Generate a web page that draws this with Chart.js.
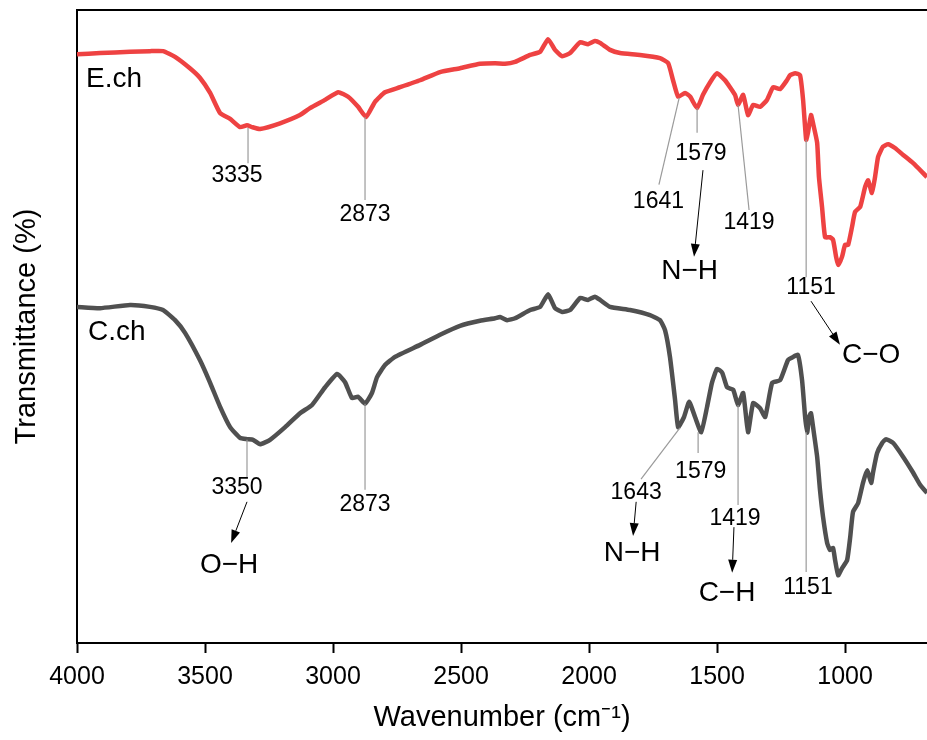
<!DOCTYPE html>
<html><head><meta charset="utf-8">
<script src="https://cdn.jsdelivr.net/npm/chart.js@4/dist/chart.umd.min.js"></script>
<style>html,body{margin:0;padding:0;background:#fff;overflow:hidden}</style>
</head><body>
<canvas id="c" width="927" height="740"></canvas>
<script>
// ---------- DATA ----------
const ech_wavenumber = [4000,3910,3793,3715,3664,3617,3559,3520,3480,3441,3402,3363,3336,3316,3285,3207,3129,3090,3031,2980,2941,2902,2871,2836,2797,2738,2660,2582,2504,2426,2367,2328,2289,2230,2191,2160,2133,2105,2074,2035,2004,1977,1957,1918,1879,1801,1723,1691,1672,1652,1625,1605,1578,1555,1527,1500,1469,1430,1418,1398,1379,1359,1332,1305,1281,1254,1227,1215,1195,1176,1164,1152,1145,1133,1125,1109,1102,1090,1078,1059,1047,1035,1027,1012,1000,988,973,961,941,922,910,895,883,871,852,832,805,773,734,699,680];
const ech_transmittance = [93.0,93.2,93.4,93.5,93.5,92.6,90.8,89.3,86.9,83.7,82.8,81.5,81.8,81.5,81.2,82.1,83.4,84.5,85.8,87.0,86.3,84.7,83.1,85.5,87.0,87.8,88.9,90.2,90.8,91.5,91.6,91.5,91.8,92.9,93.4,95.4,93.7,92.7,93.2,94.9,94.6,95.1,94.8,93.7,93.2,92.9,92.4,91.6,88.9,86.3,86.9,86.3,84.5,86.6,88.6,90.0,88.9,86.6,85.0,86.6,83.4,85.0,84.7,85.8,87.8,87.5,88.9,89.7,90.0,89.7,85.8,79.5,80.6,83.4,82.1,79.0,73.6,68.9,64.1,64.1,63.7,61.0,59.7,61.0,62.9,62.9,65.7,68.1,68.9,72.0,73.1,71.1,73.6,76.8,78.4,78.8,78.2,77.1,75.8,74.4,73.6];

const cch_wavenumber = [4000,3910,3793,3715,3664,3617,3578,3520,3480,3441,3402,3363,3336,3312,3285,3246,3187,3129,3082,3031,2984,2953,2926,2902,2875,2848,2828,2797,2758,2660,2582,2504,2426,2367,2348,2320,2289,2230,2191,2160,2133,2105,2074,2035,2004,1977,1957,1918,1840,1762,1723,1703,1684,1664,1652,1629,1609,1586,1562,1539,1520,1500,1480,1461,1437,1418,1398,1379,1359,1332,1312,1285,1254,1223,1203,1184,1168,1156,1148,1141,1133,1125,1109,1098,1086,1070,1059,1047,1039,1027,1012,992,980,969,949,930,914,898,891,875,855,840,812,773,734,707,680];
const cch_transmittance = [53.1,52.9,53.4,53.1,52.6,51.0,49.0,44.7,41.1,37.3,34.1,32.4,32.2,32.1,31.4,32.1,34.1,36.3,37.6,40.4,42.5,41.2,38.7,38.9,37.8,39.5,42.0,43.9,45.2,47.1,48.7,50.1,50.9,51.3,51.5,51.0,51.3,52.6,53.1,55.1,52.9,52.3,52.6,54.5,54.2,54.7,54.2,53.1,52.6,51.8,51.0,49.4,45.2,38.4,34.1,35.7,38.1,35.7,33.3,37.3,41.1,43.3,42.7,40.4,40.0,37.6,39.5,33.3,37.9,37.1,35.7,41.1,41.5,44.7,45.2,45.5,41.5,35.7,33.2,35.7,36.3,34.1,29.4,24.2,19.9,15.8,14.7,15.0,13.1,10.7,11.8,13.1,16.7,20.7,22.1,25.3,27.3,25.3,26.9,30.0,31.6,32.2,31.6,29.4,26.9,25.0,23.7];

const series_names = ['E.ch','C.ch'];
const x_tick_values = [4000,3500,3000,2500,2000,1500,1000];

// peak labels: [text, wavenumber, transmittance]
const peak_labels = [['3335',3375,73.8],['2873',2875,67.6],['1641',1729,69.7],['1579',1563,77.3],['1419',1375,66.4],['1151',1133,56.1],
  ['3350',3375,24.5],['2873',2875,21.8],['1643',1816,23.7],['1579',1564,27.0],['1419',1430,19.6],['1151',1145,8.7]];
const group_labels = [['N\u2212H',1607,58.8],['C\u2212O',898,45.5],['O\u2212H',3406,12.3],['N\u2212H',1832,14.2],['C\u2212H',1461,7.9]];
const name_labels = [['E.ch',3965,89.1],['C.ch',3957,49.1]];
// leader lines [wn1, t1, wn2, t2]
const leader_lines = [[3332,81.4,3332,75.8],[2875,83.1,2875,70.0],[1648,86.1,1727,72.4],[1578,84.5,1578,80.6],[1418,85.0,1375,68.4],[1152,79.5,1152,57.8],
  [3336,32.1,3336,26.2],[2875,37.8,2875,24.2],[1645,34.0,1797,25.9],[1574,33.3,1574,30.0],[1418,37.6,1418,21.8],[1152,33.3,1152,11.2]];
const arrow_lines = [[1555,74.7,1590,61.0],[1133,54.0,1020,47.1],[3336,22.3,3398,15.8],[1816,22.3,1828,16.9],[1434,18.3,1441,11.1]];

// ---------- CHART ----------
const FONT = '"Liberation Sans", Arial, Helvetica, sans-serif';
const toXY = (xs, ys) => xs.map((v, i) => ({x: v, y: ys[i]}));

const annotatePlugin = {
  id: 'annotate',
  afterDatasetsDraw(chart) {
    const {ctx, chartArea: a, scales: {x, y}} = chart;
    const px = v => x.getPixelForValue(v), py = v => y.getPixelForValue(v);
    ctx.save();
    // top frame line
    ctx.strokeStyle = '#000'; ctx.lineWidth = 2;
    ctx.beginPath(); ctx.moveTo(a.left - 1, a.top); ctx.lineTo(a.right + 2, a.top); ctx.stroke();
    // leaders
    ctx.strokeStyle = '#9a9a9a'; ctx.lineWidth = 1.2;
    leader_lines.forEach(l => {
      ctx.beginPath(); ctx.moveTo(px(l[0]), py(l[1])); ctx.lineTo(px(l[2]), py(l[3])); ctx.stroke();
    });
    // arrows
    ctx.strokeStyle = '#000'; ctx.fillStyle = '#000'; ctx.lineWidth = 1;
    arrow_lines.forEach(l => {
      const x1 = px(l[0]), y1 = py(l[1]), x2 = px(l[2]), y2 = py(l[3]);
      const ang = Math.atan2(y2 - y1, x2 - x1), L = 13, W = 4.5;
      const bx = x2 - L * Math.cos(ang), by = y2 - L * Math.sin(ang);
      ctx.beginPath(); ctx.moveTo(x1, y1); ctx.lineTo(bx, by); ctx.stroke();
      ctx.beginPath(); ctx.moveTo(x2, y2);
      ctx.lineTo(bx + W * Math.sin(ang), by - W * Math.cos(ang));
      ctx.lineTo(bx - W * Math.sin(ang), by + W * Math.cos(ang));
      ctx.closePath(); ctx.fill();
    });
    ctx.fillStyle = '#000'; ctx.textBaseline = 'middle';
    ctx.textAlign = 'center'; ctx.font = '23px ' + FONT;
    peak_labels.forEach(t => ctx.fillText(t[0], px(t[1]), py(t[2])));
    ctx.font = '28px ' + FONT;
    group_labels.forEach(t => ctx.fillText(t[0], px(t[1]), py(t[2])));
    ctx.textAlign = 'left';
    name_labels.forEach(t => ctx.fillText(t[0], px(t[1]), py(t[2])));
    ctx.restore();
  }
};

new Chart(document.getElementById('c'), {
  type: 'line',
  data: {
    datasets: [
      {label: series_names[0], data: toXY(ech_wavenumber, ech_transmittance), borderColor: 'rgb(238,66,66)', borderWidth: 4.5, pointRadius: 0, tension: 0.15, fill: false},
      {label: series_names[1], data: toXY(cch_wavenumber, cch_transmittance), borderColor: 'rgb(80,80,80)', borderWidth: 4.5, pointRadius: 0, tension: 0.15, fill: false}
    ]
  },
  options: {
    responsive: false, animation: false, devicePixelRatio: 1,
    layout: {padding: {top: 10, right: 0, left: 0, bottom: 0}},
    plugins: {legend: {display: false}, tooltip: {enabled: false}},
    scales: {
      x: {
        type: 'linear', reverse: true, min: 680, max: 4000,
        afterBuildTicks: axis => { axis.ticks = x_tick_values.map(v => ({value: v})); },
        afterFit: axis => { axis.height = 97; },
        grid: {display: true, drawOnChartArea: false, drawTicks: true, tickLength: 10, tickColor: '#000', tickWidth: 2},
        border: {display: true, color: '#000', width: 2},
        ticks: {color: '#000', font: {family: FONT, size: 25}, padding: 9, maxRotation: 0, callback: v => String(v)},
        title: {display: true, text: 'Wavenumber (cm\u207B\u00B9)', color: '#000', font: {family: FONT, size: 29}, padding: {top: 0, bottom: 5}}
      },
      y: {
        type: 'linear', min: 0, max: 100,
        afterFit: axis => { axis.width = 77; },
        grid: {display: false},
        border: {display: true, color: '#000', width: 2},
        ticks: {display: false},
        title: {display: true, text: 'Transmittance (%)', color: '#000', font: {family: FONT, size: 29}, padding: {top: 10, bottom: 0}}
      }
    }
  },
  plugins: [annotatePlugin]
});
</script>
</body></html>
